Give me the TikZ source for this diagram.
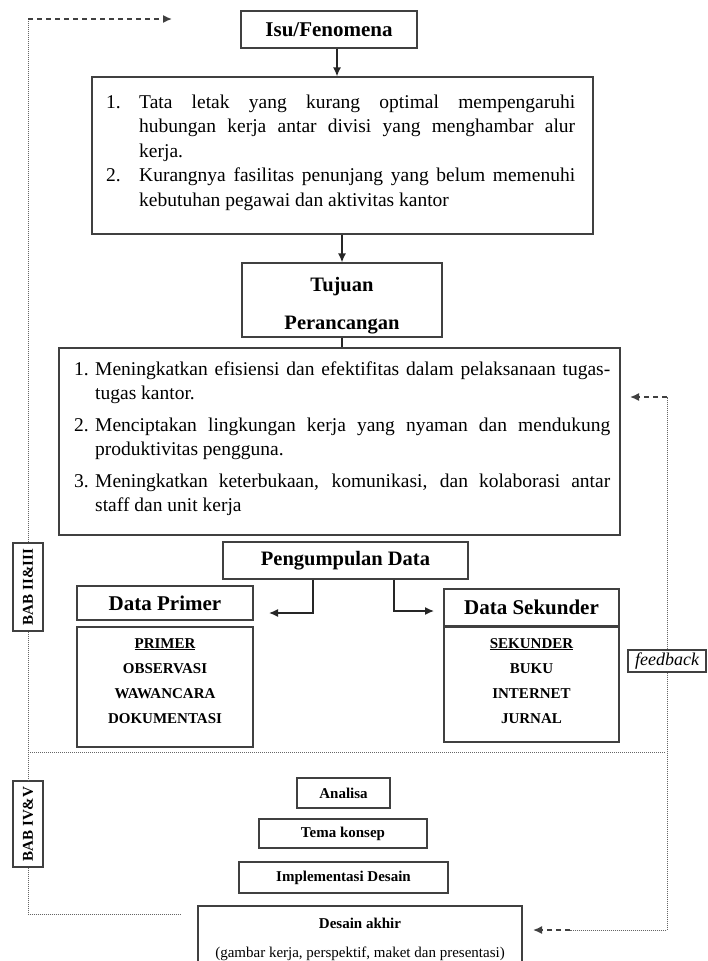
\documentclass[tikz,border=0pt]{standalone}
\usepackage{fontspec}
\setmainfont{Liberation Serif}
\usetikzlibrary{arrows.meta}
\newcommand\fsz[2]{\fontsize{#1}{#2}\selectfont}
\tikzset{
  bx/.style={draw=black!75, line width=1.2pt, inner sep=0pt},
  arr/.style={draw=black!85, line width=1.4pt, -{Latex[length=9pt,width=8pt]}},
  sline/.style={draw=black!85, line width=1.4pt},
  dotl/.style={draw=black!60, line width=1.0pt, dash pattern=on 1pt off 1pt},
  dashl/.style={draw=black!75, line width=1.5pt, dash pattern=on 5pt off 4pt, -{Latex[length=9pt,width=8pt]}},
  hd/.style={font=\fsz{21}{24}\bfseries},
  sm/.style={font=\fsz{15}{18}\bfseries},
}
\begin{document}
\begin{tikzpicture}[x=1pt,y=-1pt]
\useasboundingbox (0,0) rectangle (707,961);

% top
\node[bx, hd, minimum width=176pt, minimum height=37pt] (isu) at (329,29.5) {Isu/Fenomena};

\node[bx, minimum width=501pt, minimum height=157pt] (b2) at (342.5,155.5) {};
\node[anchor=base west, inner sep=0pt] (b2t) at (106,108) {\parbox[t]{470pt}{\fsz{19.5}{24.5}%
\makebox[33pt][l]{1.}\makebox[436pt][s]{Tata letak yang kurang optimal mempengaruhi}\\
\hspace*{33pt}\makebox[436pt][s]{hubungan kerja antar divisi yang menghambar alur}\\
\hspace*{33pt}kerja.\\
\makebox[33pt][l]{2.}\makebox[436pt][s]{Kurangnya fasilitas penunjang yang belum memenuhi}\\
\hspace*{33pt}kebutuhan pegawai dan aktivitas kantor}};

\node[bx, minimum width=200pt, minimum height=74pt] (tuj) at (342,300) {};
\node[anchor=base, inner sep=0pt] (tujt) at (342,291) {\parbox[t]{200pt}{\centering\fsz{20.5}{38}\bfseries Tujuan\\Perancangan}};

\node[bx, minimum width=561pt, minimum height=187pt] (b3) at (339.5,441.5) {};
\node[anchor=base west, inner sep=0pt] (b3t) at (74,375) {\parbox[t]{540pt}{\fsz{19.5}{24}%
\makebox[21pt][l]{1.}\makebox[515pt][s]{Meningkatkan efisiensi dan efektifitas dalam pelaksanaan tugas-}\\
\hspace*{21pt}tugas kantor.\\[8pt]
\makebox[21pt][l]{2.}\makebox[515pt][s]{Menciptakan lingkungan kerja yang nyaman dan mendukung}\\
\hspace*{21pt}produktivitas pengguna.\\[8pt]
\makebox[21pt][l]{3.}\makebox[515pt][s]{Meningkatkan keterbukaan, komunikasi, dan kolaborasi antar}\\
\hspace*{21pt}staff dan unit kerja}};

% data
\node[bx, font=\fsz{20.5}{24}\bfseries, minimum width=245pt, minimum height=37pt] (peng) at (345.5,560.5) {Pengumpulan Data};
\node[bx, hd, minimum width=176pt, minimum height=34pt] (dp) at (165,603) {Data Primer};
\node[bx, minimum width=176pt, minimum height=120pt] (dpl) at (165,687) {};
\node[anchor=base, inner sep=0pt] (dplt) at (165,648) {\parbox[t]{176pt}{\centering\fsz{15}{25.3}\bfseries \underline{PRIMER}\\OBSERVASI\\WAWANCARA\\DOKUMENTASI}};
\node[bx, hd, minimum width=175pt, minimum height=37pt] (ds) at (531.5,607.5) {Data Sekunder};
\node[bx, minimum width=175pt, minimum height=115pt] (dsl) at (531.5,684.5) {};
\node[anchor=base, inner sep=0pt] (dslt) at (531.5,648) {\parbox[t]{175pt}{\centering\fsz{15}{25.3}\bfseries \underline{SEKUNDER}\\BUKU\\INTERNET\\JURNAL}};

% lower part
\node[bx, sm, minimum width=93pt, minimum height=30pt] (ana) at (343.5,793) {Analisa};
\node[bx, sm, minimum width=168pt, minimum height=29pt] (tema) at (343,833.5) {Tema konsep};
\node[bx, sm, minimum width=209pt, minimum height=31pt] (impl) at (343.5,877.5) {Implementasi Desain};
\node[bx, minimum width=324pt, minimum height=70pt] (des) at (360,941) {};
\node[anchor=base, inner sep=0pt] (dest) at (360,928) {\parbox[t]{324pt}{\centering\fsz{15}{29}\textbf{Desain akhir}\\(gambar kerja, perspektif, maket dan presentasi)}};

% side labels
\node[bx, sm, minimum width=30pt, minimum height=88pt] (bab1) at (28,587) {\rotatebox{90}{BAB II\&III}};
\node[bx, sm, minimum width=30pt, minimum height=86pt] (bab2) at (28,824) {\rotatebox{90}{BAB IV\&V}};
\node[bx, font=\fsz{18}{20}\itshape, minimum width=78pt, minimum height=22pt] (fb) at (667,661) {feedback};

% connectors
\coordinate (ia) at ([xshift=8pt]isu.south);
\draw[arr] (ia) -- (ia |- b2.north);
\draw[arr] (tuj.north |- b2.south) -- (tuj.north);
\draw[sline] (tuj.south) -- (tuj.south |- b3.north);
\coordinate (pl) at (269,613);
\coordinate (pr) at (434,611);
\draw[arr] ([xshift=-32.5pt]peng.south) |- (pl);
\draw[arr] ([xshift=48.5pt]peng.south) |- (pr);

\coordinate (tl) at (28,19);
\coordinate (tle) at (172,19);
\draw[dotl] (bab1.north) -- (tl);
\draw[dashl] (tl) -- (tle);
\draw[dotl] (bab1.south) -- (bab2.north);
\coordinate (bl) at (28,914);
\coordinate (ble) at (181,914);
\draw[dotl] (bab2.south) -- (bl) -- (ble);
\coordinate (dvl) at (28,752);
\coordinate (dvr) at (665,752);
\draw[dotl] (dvl) -- (dvr);

\coordinate (tr) at (667,397);
\coordinate (tre) at (630,397);
\draw[dotl] (fb.north) -- (tr);
\draw[dashl] (tr) -- (tre);
\coordinate (br) at (667,930);
\coordinate (brd) at (570,930);
\coordinate (bre) at (533,930);
\draw[dotl] (fb.south) -- (br) -- (brd);
\draw[dashl] (brd) -- (bre);
\end{tikzpicture}
\end{document}
